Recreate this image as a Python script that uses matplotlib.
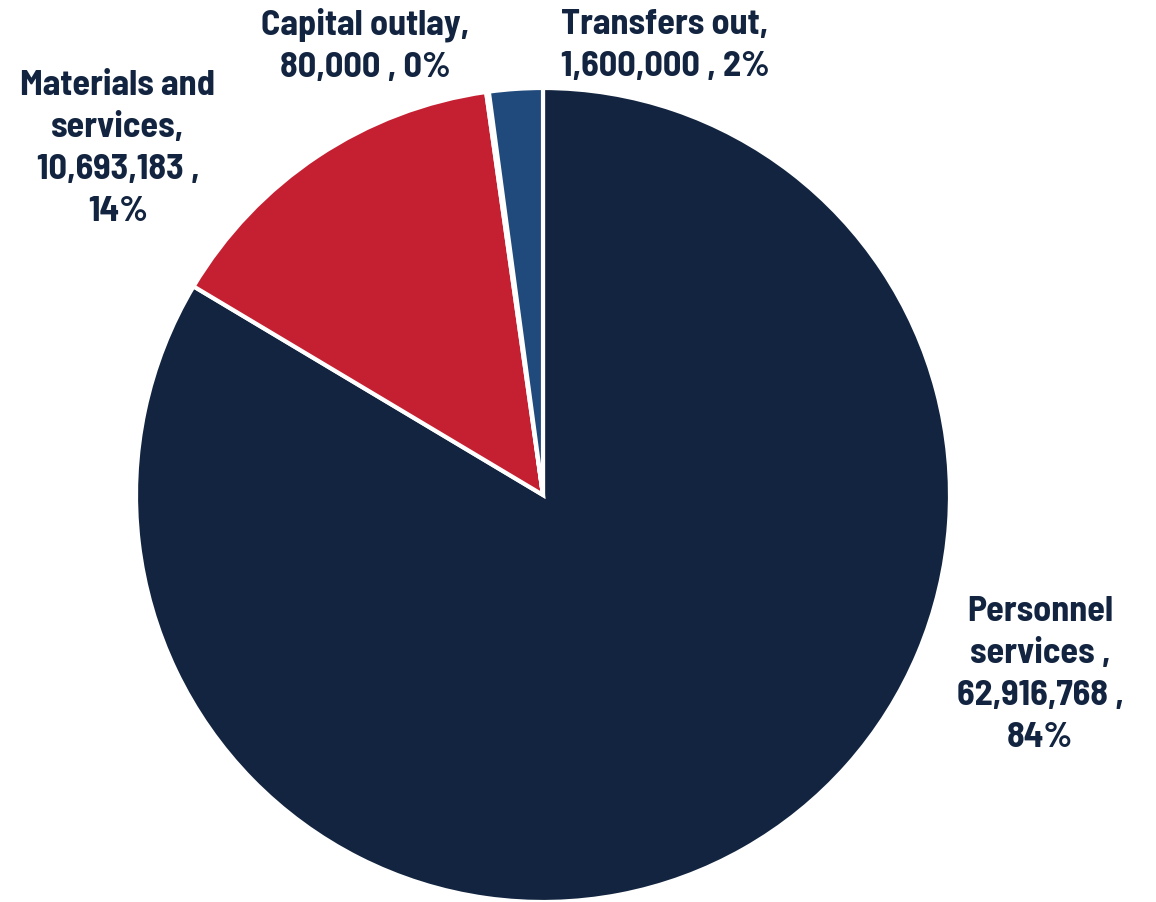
import matplotlib.pyplot as plt

# budget by category, in dollars
categories = ['Personnel\nservices ', 'Materials and\nservices', 'Capital outlay', 'Transfers out']
amounts = [62916768, 10693183, 80000, 1600000]
slice_colors = ['#12243F', '#C52032', '#FFFFFF', '#214A7C']

# label anchor points (pixels, origin bottom-left) and line breaks
label_pos = [(1040, 227), (118, 753), (365, 856), (665, 856)]
label_fmt = ['{name},\n{amt} ,\n{pct}', '{name},\n{amt} ,\n{pct}',
             '{name},\n{amt} , {pct}', '{name},\n{amt} , {pct}']

text_color = '#12243F'
font = ['Barlow Semi Condensed', 'DejaVu Sans']

fig = plt.figure(figsize=(11.56, 9.02), dpi=100)
ax = fig.add_axes([0, 0, 1, 1])

ax.pie(amounts, colors=slice_colors, startangle=90, counterclock=False,
       center=(543, 407), radius=407,
       wedgeprops=dict(edgecolor='white', linewidth=3))

# pie() resets the limits, so put the pixel frame back afterwards
ax.set_xlim(0, 1156)
ax.set_ylim(0, 902)
ax.set_aspect('equal')
ax.axis('off')

total = float(sum(amounts))
for name, amt, fmt, (x, y) in zip(categories, amounts, label_fmt, label_pos):
    pct = '{:.0f}%'.format(100 * amt / total)
    txt = fmt.format(name=name, amt='{:,}'.format(amt), pct=pct)
    ax.text(x, y, txt, ha='center', va='center', multialignment='center',
            fontsize=26, fontweight='bold', family=font, color=text_color,
            linespacing=1.4)

fig.savefig('out.png', dpi=100)
